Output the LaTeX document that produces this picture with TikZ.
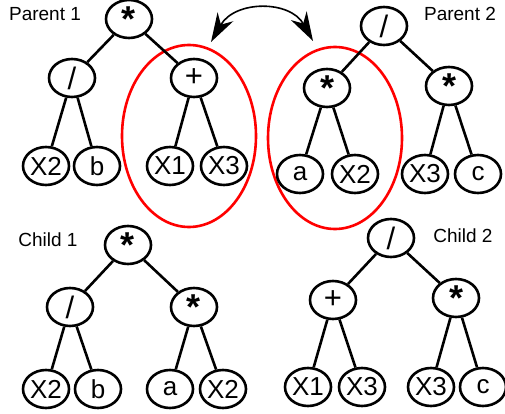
\documentclass[tikz,border=0pt]{standalone}
\usepackage{fontspec}
\setmainfont{Liberation Sans}
\usetikzlibrary{shapes.geometric,arrows.meta}
\begin{document}
\begin{tikzpicture}[x=1pt,y=-1pt,
  tn/.style={ellipse,draw,line width=2.6pt,minimum width=46pt,minimum height=38pt,inner sep=0pt,font=\fontsize{26}{26}\selectfont},
  op/.style={tn,font=\fontsize{31}{31}\selectfont},
  st/.style={tn,font=\fontsize{36}{36}\selectfont\bfseries},
  ed/.style={line width=2.6pt},
  lab/.style={font=\fontsize{19}{19}\selectfont},
  sel/.style={draw=red,line width=2.6pt,ellipse,minimum width=134pt,minimum height=182pt,inner sep=0pt},
  swaparrow/.style={line width=1.6pt,arrows={Stealth[length=29pt,width=18pt,inset=9pt]-Stealth[length=29pt,width=18pt,inset=9pt]}}
]
\useasboundingbox (0,0) rectangle (505,414);
% red selection ellipses
\node[sel] (s1) at (189,136) {};
\node[sel] (s2) at (335,138) {};
% Parent 1
\node[lab] (p1) at (45,14) {Parent 1};
\node[st] (a0) at (129,19) {\raisebox{-9pt}{*}};
\node[op] (a1) at (72,78) {/};
\node[op] (a2) at (194,78) {+};
\node[tn] (a3) at (46,166) {X2};
\node[tn] (a4) at (97,166) {b};
\node[tn] (a5) at (170,166) {X1};
\node[tn] (a6) at (224,166) {X3};
\draw[ed] (a0)--(a1) (a0)--(a2) (a1)--(a3) (a1)--(a4) (a2)--(a5) (a2)--(a6);
% Parent 2
\node[lab] (p2) at (460,14) {Parent 2};
\node[op] (b0) at (384,26) {/};
\node[st] (b1) at (327,88) {\raisebox{-9pt}{*}};
\node[st] (b2) at (449,86) {\raisebox{-9pt}{*}};
\node[tn] (b3) at (300,174) {a};
\node[tn] (b4) at (355,174) {X2};
\node[tn] (b5) at (425,174) {X3};
\node[tn] (b6) at (478,174) {c};
\draw[ed] (b0)--(b1) (b0)--(b2) (b1)--(b3) (b1)--(b4) (b2)--(b5) (b2)--(b6);
% Child 1
\node[lab] (c1) at (48,240) {Child 1};
\node[st] (d0) at (128,245) {\raisebox{-9pt}{*}};
\node[op] (d1) at (70,307) {/};
\node[st] (d2) at (194,307) {\raisebox{-9pt}{*}};
\node[tn] (d3) at (46,389) {X2};
\node[tn] (d4) at (98,389) {b};
\node[tn] (d5) at (170,389) {a};
\node[tn] (d6) at (223,389) {X2};
\draw[ed] (d0)--(d1) (d0)--(d2) (d1)--(d3) (d1)--(d4) (d2)--(d5) (d2)--(d6);
% Child 2
\node[lab] (c2) at (463,236) {Child 2};
\node[op] (e0) at (391,238) {/};
\node[op] (e1) at (333,300) {+};
\node[st] (e2) at (456,298) {\raisebox{-9pt}{*}};
\node[tn] (e3) at (308,387) {X1};
\node[tn] (e4) at (362,387) {X3};
\node[tn] (e5) at (431,387) {X3};
\node[tn] (e6) at (483,387) {c};
\draw[ed] (e0)--(e1) (e0)--(e2) (e1)--(e3) (e1)--(e4) (e2)--(e5) (e2)--(e6);
% swap arrow
\coordinate (al) at (211,42);
\coordinate (ar) at (313,41);
\draw[swaparrow] (al) .. controls (235,0) and (290,0) .. (ar);
\end{tikzpicture}
\end{document}
